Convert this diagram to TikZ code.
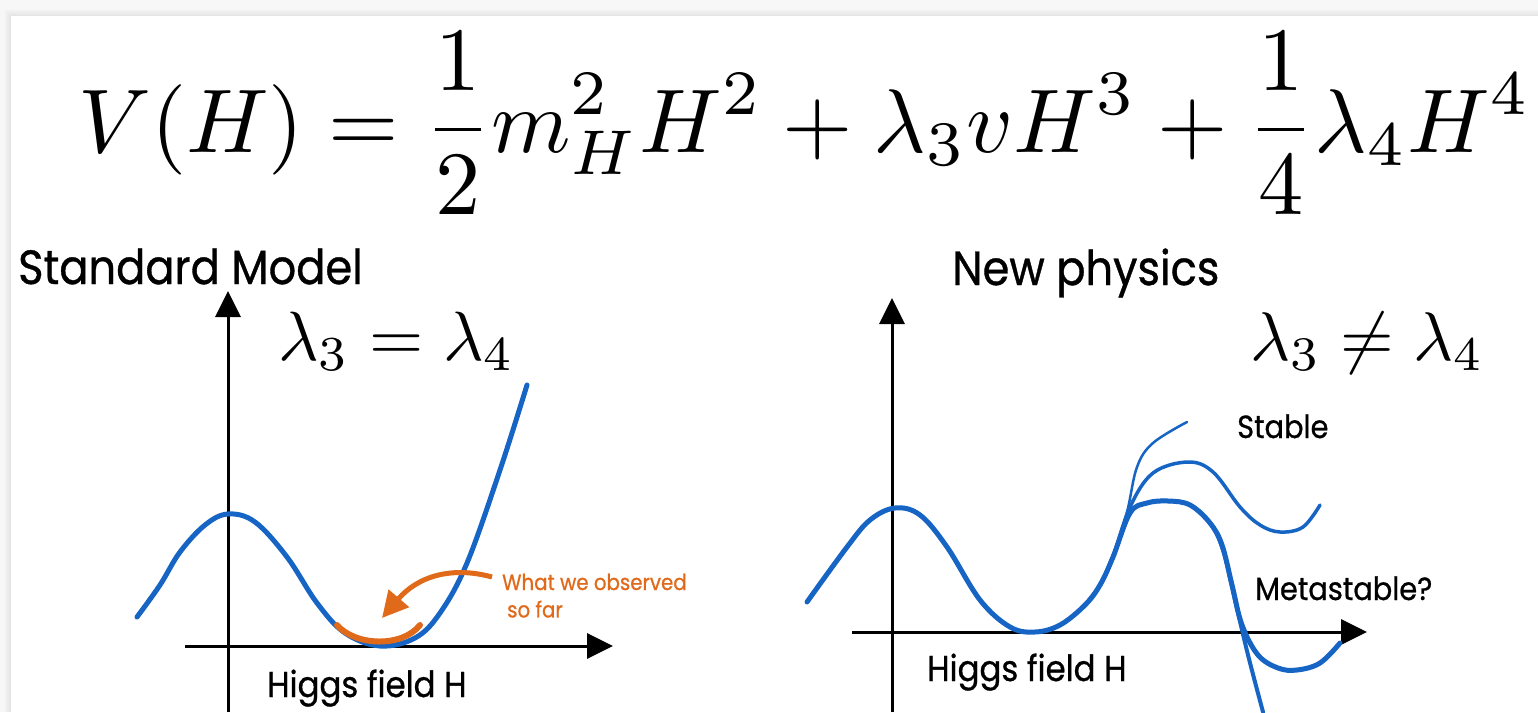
\documentclass[tikz,border=0pt]{standalone}
\usepackage[no-math]{fontspec}
\setmainfont{Poppins}[FakeBold=0.8]
\usepackage{graphicx}
\usetikzlibrary{arrows.meta, positioning}
\definecolor{higgsblue}{RGB}{22,100,196}
\definecolor{obsorange}{RGB}{224,105,26}
\newcommand{\narrow}[1]{\scalebox{0.9}[1]{#1}}
\tikzstyle{axisline} = [line width=3pt, draw=black, -{Triangle[length=26pt,width=25pt]}]
\tikzstyle{potential} = [line width=5pt, draw=higgsblue, line cap=round, line join=round]
\tikzstyle{lbl} = [anchor=base west, inner sep=0pt, text=black]
\begin{document}
\begin{tikzpicture}[x=1pt, y=-1pt]
    % slide and its shadow
    \useasboundingbox (0,0) rectangle (1538,712);
    \fill[gray!6] (0,0) rectangle (1538,712);
    \foreach \i in {6,...,1}
        \fill[gray!\the\numexpr 22-2*\i\relax] (11-\i,16-\i) rectangle (1538,712);
    \fill[white] (11,16) rectangle (1538,712);

    % potential
    \node[lbl] (pot) at (78,152)
        {\resizebox{1452pt}{!}{$\displaystyle V(H)=\frac{1}{2}m_H^2H^2+\lambda_3vH^3+\frac{1}{4}\lambda_4H^4$}};

    % Standard Model
    \node[lbl, font=\fontsize{48}{52}\selectfont] (sm) at (18,284) {\narrow{Standard Model}};
    \node[lbl] (smeq) at (278,360) {\resizebox{237pt}{!}{$\lambda_3=\lambda_4$}};
    \coordinate (smo) at (228,712);
    \coordinate (smy) at (228,291);
    \coordinate (smx0) at (185,646);
    \coordinate (smx) at (613,646);
    \draw[axisline] (smo) -- (smy);
    \draw[axisline] (smx0) -- (smx);
    \draw[potential] plot[smooth, tension=0.6] coordinates {(137,617) (160,585) (180,552) (205,525)
        (228,514) (255,522) (287,557) (317,603) (345,633) (380,646) (415,638) (440,613) (467,563)
        (500,470) (527,385)};
    \draw[obsorange, line width=6pt, line cap=round] (337,625) .. controls (355,646) and (402,648) .. (420,625);
    \coordinate (obsfrom) at (492,577);
    \coordinate (obsto) at (382,618);
    \draw[obsorange, line width=5pt, -{Triangle[length=26pt,width=26pt]}]
        (obsfrom) .. controls (452,566) and (418,576) .. (obsto);
    \node[lbl, text=obsorange, font=\fontsize{22}{26}\selectfont] (obs) at (502,590) {\narrow{What we observed}};
    \node[lbl, text=obsorange, font=\fontsize{22}{26}\selectfont, below=10pt of obs.south west, anchor=north west] (sofar) {\hspace{5pt}\narrow{so far}};
    \node[lbl, font=\fontsize{36}{40}\selectfont] (smh) at (267,697) {\narrow{Higgs field H}};

    % New physics
    \node[lbl, font=\fontsize{48}{52}\selectfont] (np) at (952,285) {\narrow{New physics}};
    \node[lbl] (npeq) at (1250,360) {\resizebox{234pt}{!}{$\lambda_3\neq\lambda_4$}};
    \coordinate (npo) at (892,712);
    \coordinate (npy) at (892,298);
    \coordinate (npx0) at (852,632);
    \coordinate (npx) at (1367,632);
    \draw[axisline] (npo) -- (npy);
    \draw[axisline] (npx0) -- (npx);
    % stable branches
    \draw[potential, line width=2.5pt] plot[smooth, tension=0.6] coordinates {(1085,605) (1100,585)
        (1113,557) (1127,512) (1137,467) (1153,443) (1187,422)};
    \draw[potential, line width=3.5pt] plot[smooth, tension=0.6] coordinates {(1085,605) (1100,585)
        (1113,557) (1130,507) (1153,473) (1188,462) (1213,472) (1240,507) (1260,525) (1280,532)
        (1303,527) (1320,505)};
    % falling branch
    \draw[potential, line width=4pt] plot[smooth, tension=0.6] coordinates {(1085,605) (1100,585)
        (1113,557) (1130,513) (1147,503) (1168,501) (1190,505) (1210,523) (1223,550) (1235,600)
        (1248,655) (1263,712)};
    % metastable
    \draw[potential] plot[smooth, tension=0.6] coordinates {(807,602) (847,547) (870,520) (895,508)
        (920,515) (947,547) (980,600) (1010,627) (1035,632) (1060,625) (1085,605) (1100,585)
        (1113,557) (1130,513) (1147,503) (1168,501) (1190,505) (1210,523) (1222,545) (1232,585)
        (1242,625) (1258,655) (1278,668) (1297,670) (1320,663) (1340,643)};
    \node[lbl, font=\fontsize{32}{36}\selectfont] (stab) at (1237,438) {\narrow{Stable}};
    \node[lbl, font=\fontsize{32}{36}\selectfont] (meta) at (1255,600) {\narrow{Metastable?}};
    \node[lbl, font=\fontsize{36}{40}\selectfont] (nph) at (927,681) {\narrow{Higgs field H}};
\end{tikzpicture}
\end{document}
